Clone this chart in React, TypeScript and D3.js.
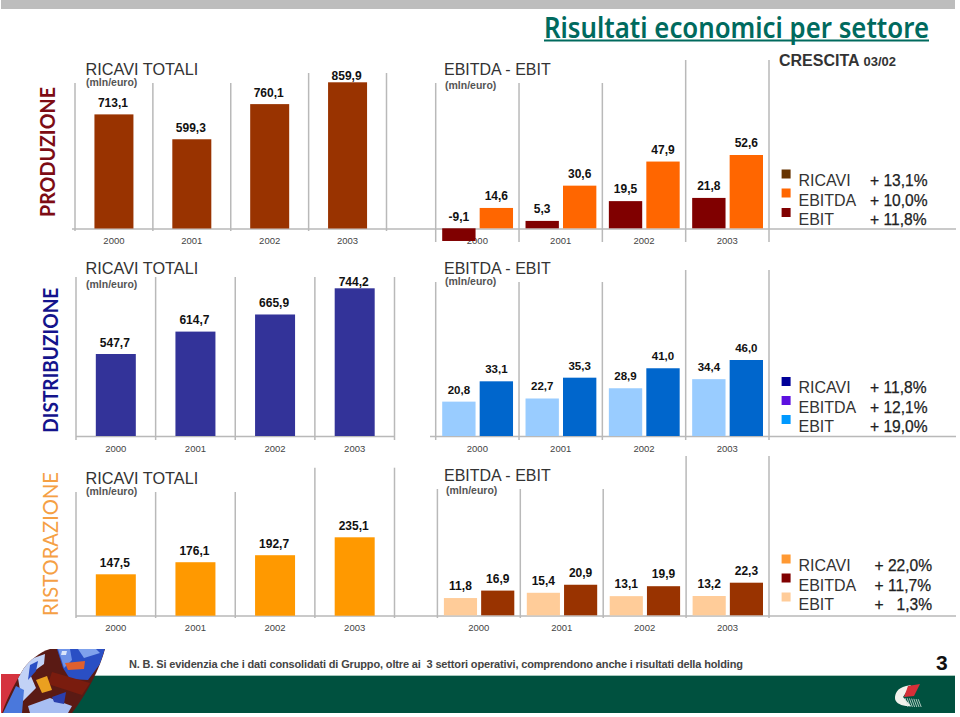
import React from "react";
import * as d3 from "d3";

// ---------- data ----------
const years = ["2000", "2001", "2002", "2003"];
const produzioneRicavi = [713.1, 599.3, 760.1, 859.9];
const produzioneEbit = [-9.1, 5.3, 19.5, 21.8];
const produzioneEbitda = [14.6, 30.6, 47.9, 52.6];
const distribuzioneRicavi = [547.7, 614.7, 665.9, 744.2];
const distribuzioneEbit = [20.8, 22.7, 28.9, 34.4];
const distribuzioneEbitda = [33.1, 35.3, 41.0, 46.0];
const ristorazioneRicavi = [147.5, 176.1, 192.7, 235.1];
const ristorazioneEbit = [11.8, 15.4, 13.1, 13.2];
const ristorazioneEbitda = [16.9, 20.9, 19.9, 22.3];
const legendNames = ["RICAVI", "EBITDA", "EBIT"];
const produzioneGrowth = ["+ 13,1%", "+ 10,0%", "+ 11,8%"];
const distribuzioneGrowth = ["+ 11,8%", "+ 12,1%", "+ 19,0%"];
const ristorazioneGrowth = ["+ 22,0%", "+ 11,7%", "+   1,3%"];

// ---------- layout ----------
const FONT = "'Liberation Sans', Arial, sans-serif";
const GRID = "#b9b9b9";
const fmt = (v: number) => v.toFixed(1).replace(".", ",");

type Row = {
  name: string; nameColor: string; nameWeight: number; nameX: number; nameY: number; nameLen: number;
  ricavi: number[]; ebit: number[]; ebitda: number[]; growth: string[];
  ricaviX: [number, number]; ricaviBarW: number;
  ricaviMin: number; ricaviBase: number; ricaviTopY: number;
  ebBase: number; ebTopY: number; ebX: [number, number]; ebPad: number;
  colors: { ricavi: string; ebit: string; ebitda: string };
  legendColors: string[];
  tickTallR: number; tickTopR: number; tickTallE: number; tickTopE: number; gridBottomR: number; gridBottomE: number;
  hLine: [number, number][]; hY: number;
  yearY: number; titleY: number; subY: number; titleEY: number; subEY: number; subEX: number;
  legendSq: number[]; legendTx: number[]; pctX: number;
  labelSize: number; tightLast: boolean;
};

const rows: Row[] = [
  {
    name: "PRODUZIONE", nameColor: "#7d0c14", nameWeight: 700, nameX: 55, nameY: 217, nameLen: 130,
    ricavi: produzioneRicavi, ebit: produzioneEbit, ebitda: produzioneEbitda, growth: produzioneGrowth,
    ricaviX: [75, 386.5], ricaviBarW: 39, ricaviMin: 191, ricaviBase: 228.5, ricaviTopY: 82.3,
    ebBase: 228.3, ebTopY: 155, ebX: [435.7, 769], ebPad: 6.5,
    colors: { ricavi: "#993300", ebit: "#800000", ebitda: "#ff6600" },
    legendColors: ["#663300", "#ff6600", "#800000"],
    tickTallR: 73, tickTopR: 83, tickTallE: 60, tickTopE: 83, gridBottomR: 231, gridBottomE: 242,
    hLine: [[72, 956]], hY: 229,
    yearY: 243.5, titleY: 75, subY: 86, titleEY: 75, subEY: 89, subEX: 445,
    legendSq: [169.5, 188.5, 208], legendTx: [186, 205.5, 224.5], pctX: 870,
    labelSize: 12, tightLast: true,
  },
  {
    name: "DISTRIBUZIONE", nameColor: "#14148c", nameWeight: 700, nameX: 58, nameY: 432.7, nameLen: 145,
    ricavi: distribuzioneRicavi, ebit: distribuzioneEbit, ebitda: distribuzioneEbitda, growth: distribuzioneGrowth,
    ricaviX: [76, 394.5], ricaviBarW: 40, ricaviMin: 302.5, ricaviBase: 436, ricaviTopY: 288.3,
    ebBase: 436, ebTopY: 360, ebX: [435.7, 769], ebPad: 6.5,
    colors: { ricavi: "#333399", ebit: "#99ccff", ebitda: "#0066cc" },
    legendColors: ["#000099", "#5c10e0", "#0099ff"],
    tickTallR: 277, tickTopR: 277, tickTallE: 270, tickTopE: 282, gridBottomR: 440, gridBottomE: 440,
    hLine: [[76, 394.5], [430, 956]], hY: 436.5,
    yearY: 452, titleY: 274, subY: 288, titleEY: 274, subEY: 285, subEX: 445,
    legendSq: [377, 396, 415], legendTx: [393, 412.5, 431.5], pctX: 870,
    labelSize: 11.5, tightLast: true,
  },
  {
    name: "RISTORAZIONE", nameColor: "#f5a044", nameWeight: 400, nameX: 58, nameY: 616, nameLen: 144,
    ricavi: ristorazioneRicavi, ebit: ristorazioneEbit, ebitda: ristorazioneEbitda, growth: ristorazioneGrowth,
    ricaviX: [76, 394.5], ricaviBarW: 40, ricaviMin: 49.5, ricaviBase: 615.7, ricaviTopY: 537.3,
    ebBase: 615.3, ebTopY: 582.7, ebX: [437.4, 769], ebPad: 6.5,
    colors: { ricavi: "#ff9900", ebit: "#ffcc99", ebitda: "#993300" },
    legendColors: ["#ff9933", "#800000", "#ffcc99"],
    tickTallR: 467.7, tickTopR: 492, tickTallE: 456, tickTopE: 489, gridBottomR: 618, gridBottomE: 618,
    hLine: [[76, 956]], hY: 616,
    yearY: 630.5, titleY: 484, subY: 495, titleEY: 481, subEY: 494, subEX: 446,
    legendSq: [554.5, 573.5, 592.5], legendTx: [570.5, 590.5, 609.5], pctX: 874.5,
    labelSize: 12, tightLast: false,
  },
];

function Panel({ r }: { r: Row }) {
  const xR = d3.scaleBand<string>().domain(years).range(r.ricaviX);
  const yR = d3.scaleLinear()
    .domain([r.ricaviMin, d3.max(r.ricavi) as number])
    .range([r.ricaviBase, r.ricaviTopY]);
  const xE = d3.scaleBand<string>().domain(years).range(r.ebX);
  const inner = d3.scaleBand<string>().domain(["ebit", "ebitda"])
    .range([r.ebPad, xE.bandwidth() - r.ebPad + 0.5]).paddingInner(0.11);
  const yE = d3.scaleLinear()
    .domain([0, d3.max(r.ebitda) as number])
    .range([r.ebBase, r.ebTopY]);

  const edgesR = [...years.map((y) => xR(y) as number), r.ricaviX[1]];
  const edgesE = [...years.map((y) => xE(y) as number), r.ebX[1]];
  const maxR = d3.max(r.ricavi) as number;

  return (
    <g>
      <text transform={`translate(${r.nameX},${r.nameY}) rotate(-90)`} fontFamily="Lato, sans-serif"
        fontSize={21.5} fontWeight={r.nameWeight} fill={r.nameColor} textLength={r.nameLen} lengthAdjust="spacingAndGlyphs">{r.name}</text>

      {/* grid */}
      {r.hLine.map(([a, b], i) => (
        <line key={i} x1={a} x2={b} y1={r.hY} y2={r.hY} stroke={GRID} strokeWidth={1.5} />
      ))}
      {edgesR.map((x, i) => (
        <line key={i} x1={x} x2={x} y1={i >= 3 ? r.tickTallR : r.tickTopR} y2={r.gridBottomR} stroke={GRID} strokeWidth={1.5} />
      ))}
      {edgesE.map((x, i) => (
        <line key={i} x1={x} x2={x} y1={i >= 3 ? r.tickTallE : r.tickTopE} y2={r.gridBottomE} stroke={GRID} strokeWidth={1.5} />
      ))}

      {/* titles */}
      <text x={85.5} y={r.titleY} fontFamily={FONT} fontSize={16.3} fill="#333">RICAVI TOTALI</text>
      <text x={86} y={r.subY} fontFamily={FONT} fontSize={10.5} fontWeight={700} fill="#555">(mln/euro)</text>
      <text x={444} y={r.titleEY} fontFamily={FONT} fontSize={16} fill="#333">EBITDA - EBIT</text>
      <text x={r.subEX} y={r.subEY} fontFamily={FONT} fontSize={10.5} fontWeight={700} fill="#555">(mln/euro)</text>

      {/* year ticks */}
      {years.map((y) => (
        <g key={y} fontFamily={FONT} fontSize={9.5} fill="#444" textAnchor="middle">
          <text x={(xR(y) as number) + xR.bandwidth() / 2} y={r.yearY}>{y}</text>
          <text x={(xE(y) as number) + xE.bandwidth() / 2} y={r.yearY}>{y}</text>
        </g>
      ))}

      {/* ricavi bars */}
      {r.ricavi.map((v, i) => {
        const cx = (xR(years[i]) as number) + xR.bandwidth() / 2;
        return (
          <g key={i}>
            <rect x={cx - r.ricaviBarW / 2} y={yR(v)} width={r.ricaviBarW} height={r.ricaviBase - yR(v)} fill={r.colors.ricavi} />
            <text x={cx - 1} y={yR(v) - (r.tightLast && v === maxR ? 2.5 : 7.5)} textAnchor="middle" fontFamily={FONT} fontSize={12} fontWeight={700} fill="#111">{fmt(v)}</text>
          </g>
        );
      })}

      {/* ebit / ebitda bars */}
      {years.map((y, i) => {
        const x0 = xE(y) as number;
        return (["ebit", "ebitda"] as const).map((k) => {
          const v = r[k][i];
          const x = x0 + (inner(k) as number);
          const top = Math.min(yE(v), yE(0));
          const h = Math.abs(yE(v) - yE(0));
          return (
            <g key={k}>
              <rect x={x} y={top} width={inner.bandwidth()} height={h} fill={r.colors[k]} />
              <text x={x + inner.bandwidth() / 2} y={top - (v < 0 ? 7 : 8)} textAnchor="middle" fontFamily={FONT} fontSize={r.labelSize} fontWeight={700} fill="#111">{fmt(v)}</text>
            </g>
          );
        });
      })}

      {/* legend */}
      {legendNames.map((n, i) => (
        <g key={n}>
          <rect x={781.6} y={r.legendSq[i]} width={9} height={9} fill={r.legendColors[i]} />
          <text x={798.5} y={r.legendTx[i]} fontFamily={FONT} fontSize={16} fill="#333">{n}</text>
          <text x={r.pctX} y={r.legendTx[i]} fontFamily={FONT} fontSize={15.6} fill="#222" stroke="#222" strokeWidth={0.25} style={{ whiteSpace: "pre" }}>{r.growth[i]}</text>
        </g>
      ))}
    </g>
  );
}

const hatch = d3.range(0, 7);

export default function App() {
  return (
    <svg width={960} height={717} style={{ position: "absolute", left: 0, top: 0, background: "#fff" }}>
      <defs>
        <clipPath id="leaf">
          <path d="M2,713 C8,695 18,678 24,668 C30,660 40,652 50,649 L105,649 C100,668 88,692 72,713 Z" />
        </clipPath>
      </defs>

      {/* page frame */}
      <rect x={1} y={0} width={954} height={9} fill="#bdbdbd" />
      <rect x={1} y={675} width={954} height={38} fill="#00513f" />
      <rect x={1} y={675} width={954} height={1} fill="#a9c9bd" />
      <rect x={1} y={674} width={24} height={39} fill="#d5333f" />

      {/* header */}
      <text x={544} y={37.5} fontFamily="'Noto Sans', sans-serif" fontWeight={600} fontSize={28} fill="#006a5e" textLength={385} lengthAdjust="spacingAndGlyphs">Risultati economici per settore</text>
      <rect x={544} y={39.5} width={385} height={2} fill="#006a5e" />
      <text x={779} y={66} fontFamily={FONT} fontWeight={700} fontSize={16} fill="#333">CRESCITA <tspan fontSize={13}>03/02</tspan></text>

      {rows.map((r) => <Panel key={r.name} r={r} />)}

      {/* footer */}
      <text x={129} y={668} fontFamily={FONT} fontSize={11} fontWeight={700} fill="#444" textLength={614} style={{ whiteSpace: "pre" }}>N. B. Si evidenzia che i dati consolidati di Gruppo, oltre ai  3 settori operativi, comprendono anche i risultati della holding</text>
      <text x={936} y={670} fontFamily={FONT} fontSize={21} fontWeight={700} fill="#111">3</text>

      {/* painted leaf */}
      <g clipPath="url(#leaf)">
        <rect x={0} y={645} width={110} height={70} fill="#5a1a14" />
        <path d="M57,649 L105,649 L100,664 L88,680 L70,679 L63,668 Z" fill="#2a4fc4" />
        <path d="M58,649 L70,649 L72,660 L64,668 Z" fill="#6f93e8" />
        <path d="M65,663 L85,661 L84,669 L68,670 Z" fill="#e0602e" />
        <path d="M62,651 L67,651 L66,655 L61,655 Z" fill="#dbe6fa" />
        <path d="M78,649 L96,649 L100,653 L84,658 Z" fill="#7fa2ec" />
        <path d="M52,672 L90,683 L82,695 L48,684 Z" fill="#7a1c0e" />
        <path d="M18,678 L28,660 L45,654 L44,664 L30,674 L36,688 L22,702 Z" fill="#c2d2f6" />
        <path d="M30,665 L38,661 L36,671 L28,680 Z" fill="#2a4fc4" />
        <path d="M36,680 L47,676 L52,690 L42,693 Z" fill="#eaa020" />
        <path d="M3,713 L16,686 L24,690 L22,713 Z" fill="#4a78dc" />
        <path d="M28,706 L50,698 L72,706 L68,713 L30,713 Z" fill="#a8bef2" />
        <path d="M52,697 L66,692 L64,704 L54,702 Z" fill="#2a3fae" />
      </g>

      {/* company mark */}
      <path d="M906,686 C897,688 895,694 895,698 C895,702 899,705 906,706 L911,706 L903,697 L911,685 Z" fill="#f2f2ec" />
      <path d="M908,686 L920,684 L914,696 L904,697 Z" fill="#d62f38" />
      {hatch.map((i) => (
        <line key={i} x1={905 + i * 2.2} x2={908 + i * 2.2} y1={698 + i * 0.2} y2={707} stroke="#d8e6de" strokeWidth={0.8} />
      ))}
    </svg>
  );
}
